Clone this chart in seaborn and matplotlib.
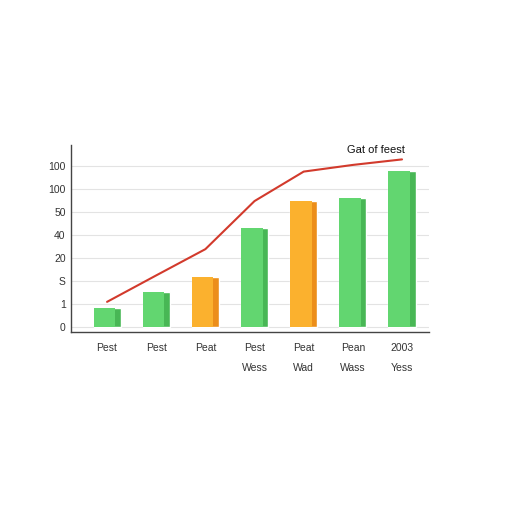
import matplotlib
matplotlib.use("Agg")
import matplotlib.pyplot as plt
import seaborn as sns
import numpy as np
import pandas as pd

categories = ["Pest", "Pest", "Peat", "Pest\nWess", "Peat\nWad", "Pean\nWass", "2003\nYess"]
bar_values = [0.83, 1.55, 2.17, 4.30, 5.49, 5.63, 6.80]
line_values = [1.11, 2.26, 3.40, 5.49, 6.77, 7.06, 7.30]
bar_kinds = ["g", "g", "o", "g", "o", "g", "g"]
ytick_labels = ["0", "1", "S", "20", "40", "50", "100", "100"]
line_label = "Gat of feest"

front_colors = {"g": "#62d670", "o": "#fbb12e"}
side_colors = {"g": "#48b755", "o": "#ec8e1a"}

sns.set_theme(style="white")
plt.rcParams['font.family'] = ['Liberation Sans', 'DejaVu Sans']

fig = plt.figure(figsize=(5.12, 5.12), dpi=100)
ax = fig.add_axes([0.139, 0.352, 0.699, 0.365])

idx = np.arange(len(categories))
df = pd.DataFrame({"pos": [str(i) for i in idx], "value": bar_values, "kind": bar_kinds})

# darker full body (side face) via seaborn
sns.barplot(data=df, x="pos", y="value", hue="kind", palette=side_colors, dodge=False,
            width=0.55, legend=False, ax=ax, saturation=1, zorder=2)
# lighter front face
ax.bar(idx - 0.055, bar_values, width=0.44,
       color=[front_colors[k] for k in bar_kinds], zorder=3, linewidth=0)

sns.lineplot(x=idx, y=line_values, color="#d23a2c", linewidth=1.5, ax=ax, zorder=4)
ax.text(idx[-1] + 0.05, line_values[-1] + 0.2, line_label, ha="right", va="bottom",
        fontsize=8, color="#111111")

ax.set_ylim(-0.19, 7.93)
ax.set_xlim(-0.73, 6.55)
ax.set_yticks(range(len(ytick_labels)))
ax.set_yticklabels(ytick_labels, fontsize=7.5, color="#333333")
ax.set_xticks(idx)
ax.set_xticklabels(categories, fontsize=7.5, color="#333333", linespacing=2.3, va="top")
ax.tick_params(axis="both", length=0)
ax.tick_params(axis="y", pad=4)
ax.tick_params(axis="x", pad=8)
ax.set_xlabel("")
ax.set_ylabel("")
ax.grid(axis="y", color="#e3e3e3", linewidth=0.8, zorder=0)
ax.set_axisbelow(True)
for s in ["top", "right"]:
    ax.spines[s].set_visible(False)
for s in ["left", "bottom"]:
    ax.spines[s].set_color("#444444")
    ax.spines[s].set_linewidth(1.0)

fig.savefig("out.png", dpi=100, facecolor="white")
